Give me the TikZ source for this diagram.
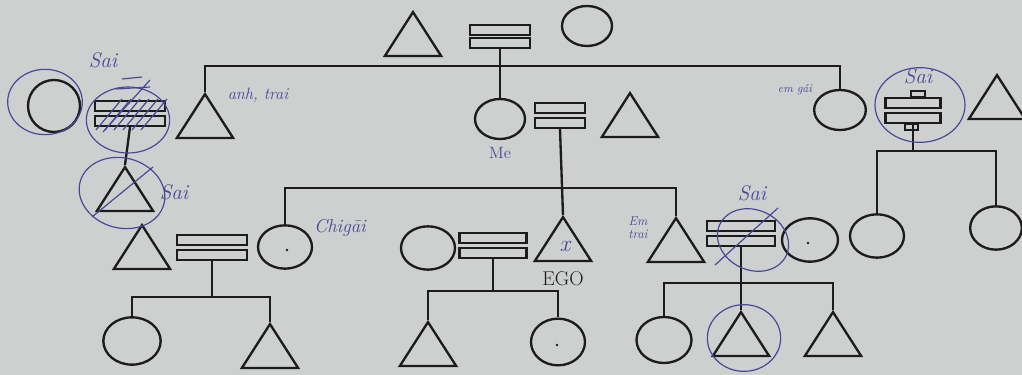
\documentclass[tikz,border=0pt]{standalone}
\usetikzlibrary{shapes.geometric}
\definecolor{paper}{RGB}{206,207,207}
\definecolor{pen}{RGB}{28,28,28}
\definecolor{ink}{RGB}{70,72,150}

\begin{document}
\begin{tikzpicture}[x=0.03cm, y=-0.03cm, line width=2pt, color=pen,
    male/.style={draw, regular polygon, regular polygon sides=3, minimum size=1.95cm,
      inner sep=0pt, yscale=0.9, anchor=corner 1},
    female/.style={draw, ellipse, minimum width=1.62cm, minimum height=1.3cm, inner sep=0pt},
    bar/.style={draw, rectangle, minimum height=0.29cm, inner sep=0pt},
    note/.style={text=ink, font=\fontsize{14}{14}\selectfont\itshape},
    wrong/.style={text=ink, font=\fontsize{18}{18}\selectfont\itshape},
    scrawl/.style={draw=ink, line width=1pt}]
  \fill[paper] (0,0) rectangle (1022,375);
  \useasboundingbox (0,0) rectangle (1022,375);

  % grandparents
  \node [male] (gf) at (413,10) {};
  \node [bar, minimum width=1.8cm] (ga) at (500,30) {};
  \node [bar, minimum width=1.8cm] (gb) at (500,43) {};
  \node [female, minimum width=1.5cm, minimum height=1.2cm] (gm) at (587,26) {};

  % mother's generation
  \node [female, minimum width=1.56cm, minimum height=1.56cm] (ux) at (54,106) {};
  \node [bar, minimum width=2.1cm] (ua) at (130,106) {};
  \node [bar, minimum width=2.1cm] (ub) at (130,121) {};
  \node [male] (cx) at (125,165) {};
  \node [male] (ab) at (205,92) {};
  \node [female, minimum width=1.5cm, minimum height=1.2cm] (me) at (500,119) {};
  \node [bar, minimum width=1.5cm] (ma) at (560,108) {};
  \node [bar, minimum width=1.5cm] (mb) at (560,123) {};
  \node [male] (fa) at (630,91) {};
  \node [female, minimum width=1.55cm, minimum height=1.2cm] (eg) at (840,110) {};
  \node [bar, minimum width=1.65cm] (xa) at (913,103) {};
  \node [bar, minimum width=1.65cm] (xb) at (913,118) {};
  \node [male] (xm) at (997,73) {};
  \draw [line width=1.4pt] (911,91) rectangle (925,97);
  \draw [line width=1.4pt] (905,124) rectangle (918,130);

  \coordinate (s1) at (0,66);
  \draw (gb.south) -- (me.north);
  \draw (ab.corner 1) |- (eg.north |- s1) -- (eg.north);
  \draw (ub.south) -- (cx.corner 1);

  % aunt's children
  \coordinate (s3) at (0,151);
  \node [female] (xc) at (877,236) {};
  \node [female, minimum width=1.55cm] (xd) at (996,228) {};
  \draw (xb.south) -- (xb.south |- s3);
  \draw (xc.north) |- (xd.north |- s3) -- (xd.north);

  % ego's generation
  \coordinate (s2) at (0,188);
  \node [male] (bl) at (142,223) {};
  \node [bar, minimum width=2.1cm] (ca) at (212,240) {};
  \node [bar, minimum width=2.1cm] (cb) at (212,255) {};
  \node [female] (cg) at (285,247) {};
  \node [female] (wf) at (428,248) {};
  \node [bar, minimum width=2cm] (ea) at (493,238) {};
  \node [bar, minimum width=2cm] (eb) at (493,253) {};
  \node [male] (ego) at (563,215) {};
  \node [male] (et) at (676,216) {};
  \node [bar, minimum width=2.05cm] (ta) at (741,226) {};
  \node [bar, minimum width=2.05cm] (tb) at (741,241) {};
  \node [female, minimum width=1.68cm] (tw) at (810,240) {};
  \draw (mb.south) -- (ego.corner 1);
  \draw (cg.north) |- (et.corner 1 |- s2) -- (et.corner 1);

  % children
  \coordinate (s4) at (0,297);
  \node [female, minimum width=1.72cm, minimum height=1.42cm] (k1) at (132,341) {};
  \node [male] (k2) at (270,322) {};
  \draw (cb.south) -- (cb.south |- s4);
  \draw (k1.north) |- (k2.corner 1 |- s4) -- (k2.corner 1);

  \coordinate (s5) at (0,291);
  \node [male] (k3) at (428,320) {};
  \node [female, minimum height=1.4cm] (k4) at (558,342) {};
  \draw (eb.south) -- (eb.south |- s5);
  \draw (k3.corner 1) |- (k4.north |- s5) -- (k4.north);

  \coordinate (s6) at (0,283);
  \node [female, minimum width=1.65cm, minimum height=1.38cm] (k5) at (664,340) {};
  \node [male] (k6) at (741,310) {};
  \node [male] (k7) at (833,310) {};
  \draw (tb.south) -- (k6.corner 1);
  \draw (k5.north) |- (k7.corner 1 |- s6) -- (k7.corner 1);

  \fill (287,250) circle (1.2pt);
  \fill (557,345) circle (1.2pt);
  \fill (808,243) circle (1.2pt);

  \node [font=\fontsize{17}{17}\selectfont] (egotext) at (563,279) {EGO};

  % pen notes
  \node [wrong] (sai1) at (103,60) {Sai};
  \draw [scrawl] (122,79) -- (142,77);
  \draw [scrawl] (116,89) -- (150,87);
  \draw [scrawl] (45,102) ellipse [x radius=1.12cm, y radius=0.98cm];
  \draw [scrawl] (128,120) ellipse [x radius=1.25cm, y radius=0.99cm];
  \foreach \d in {0,9,...,45}
    \draw [scrawl] (96+\d,130) -- (122+\d,99);
  \draw [scrawl] (150,80) -- (103,132);
  \draw [scrawl] (92,217) -- (153,167);
  \draw [scrawl, rotate around={-15:(122,193)}] (122,193) ellipse [x radius=1.3cm, y radius=1.05cm];
  \node [wrong] (sai2) at (174,192) {Sai};
  \node [note] (anh) at (258,95) {anh, trai};
  \node [note, font=\fontsize{14}{14}\selectfont] (metext) at (500,153) {Me};
  \node [note, font=\fontsize{10}{10}\selectfont\itshape] (em1) at (795,90) {em gái};
  \draw [scrawl] (920,105) ellipse [x radius=1.35cm, y radius=1.12cm];
  \node [wrong] (sai3) at (918,76) {Sai};
  \node [note, font=\fontsize{16}{16}\selectfont\itshape] (chi) at (340,228) {Chig\=ai};
  \node [note, font=\fontsize{20}{20}\selectfont\itshape] (x) at (565,246) {x};
  \node [note, font=\fontsize{11}{11}\selectfont\itshape, align=center] (em2) at (638,228) {Em\\trai};
  \draw [scrawl, rotate around={-25:(753,240)}] (753,240) ellipse [x radius=1.1cm, y radius=0.9cm];
  \draw [scrawl] (715,265) -- (778,208);
  \node [wrong] (sai4) at (752,193) {Sai};
  \draw [scrawl] (744,338) ellipse [x radius=1.1cm, y radius=1cm];
\end{tikzpicture}
\end{document}
